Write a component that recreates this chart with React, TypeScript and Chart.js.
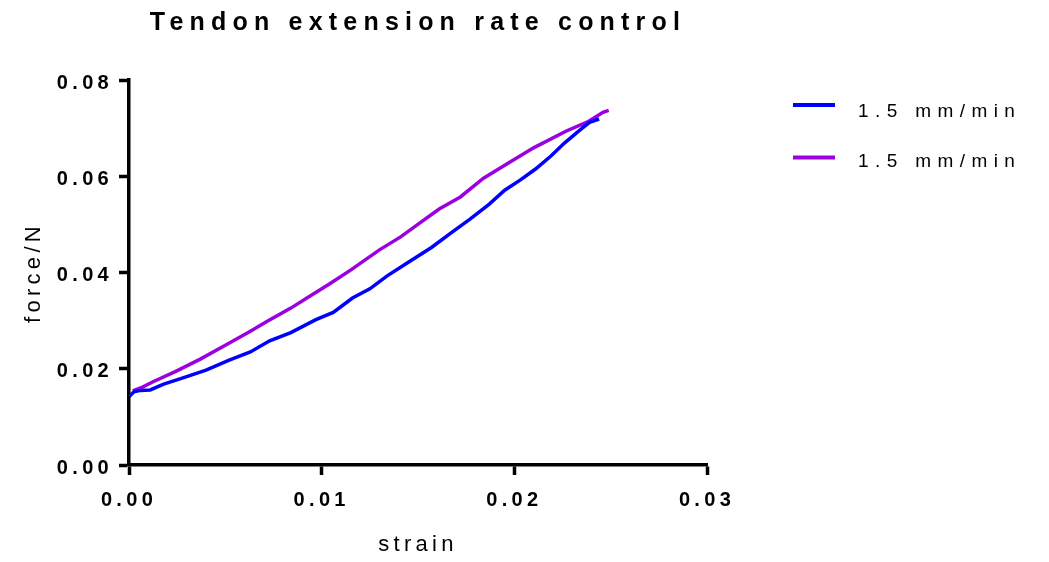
import React, { useEffect, useRef } from "react";
import { Chart, registerables } from "chart.js";

Chart.register(...registerables);

const TITLE = "Tendon extension rate control";
const X_TITLE = "strain";
const Y_TITLE = "force/N";
const SERIES_LABELS = ["1.5 mm/min", "1.5 mm/min"];
const SERIES_COLORS = ["#0000FF", "#9A00E0"];

const blueStrain = [0, 0.00026, 0.0006, 0.0011, 0.0018, 0.0028, 0.004, 0.0052, 0.0063, 0.0073, 0.0084, 0.0097, 0.0106, 0.0116, 0.0125, 0.0134, 0.0146, 0.0157, 0.0167, 0.0177, 0.0187, 0.0195, 0.0203, 0.0211, 0.0219, 0.0226, 0.0234, 0.0239, 0.0244];
const blueForce = [0.0142, 0.0152, 0.0155, 0.0156, 0.0168, 0.0181, 0.0197, 0.0218, 0.0235, 0.0258, 0.0275, 0.0302, 0.0317, 0.0347, 0.0366, 0.0393, 0.0424, 0.0452, 0.0482, 0.0511, 0.0542, 0.0571, 0.0592, 0.0615, 0.0642, 0.0669, 0.0696, 0.0712, 0.0719];

const purpleStrain = [0.0002, 0.0007, 0.00125, 0.0024, 0.0037, 0.005, 0.0063, 0.0072, 0.0084, 0.0094, 0.0104, 0.0115, 0.013, 0.0141, 0.0151, 0.0161, 0.0172, 0.0184, 0.0198, 0.021, 0.0227, 0.0238, 0.0246, 0.0249];
const purpleForce = [0.0154, 0.0162, 0.0173, 0.0194, 0.022, 0.0249, 0.0278, 0.0299, 0.0326, 0.0351, 0.0376, 0.0405, 0.0447, 0.0474, 0.0503, 0.0532, 0.0557, 0.0596, 0.063, 0.0659, 0.0694, 0.0713, 0.0733, 0.0737];

const X_MIN = 0, X_MAX = 0.03, X_STEP = 0.01;
const Y_MIN = 0, Y_MAX = 0.08, Y_STEP = 0.02;

const FONT = '"Liberation Sans", Arial, sans-serif';
const AXIS_SPACING = "4.3px";

const toPoints = (xs: number[], ys: number[]) => xs.map((x, i) => ({ x, y: ys[i] }));

const stylePlugin = {
  id: "stylePlugin",
  beforeUpdate(chart: any) {
    chart.ctx.letterSpacing = AXIS_SPACING;
  },
  beforeLayout(chart: any) {
    chart.ctx.letterSpacing = AXIS_SPACING;
  },
  beforeDraw(chart: any) {
    const ctx = chart.ctx;
    ctx.save();
    ctx.fillStyle = "#ffffff";
    ctx.fillRect(0, 0, chart.width, chart.height);
    ctx.restore();
    ctx.letterSpacing = AXIS_SPACING;
  },
  afterDraw(chart: any) {
    const ctx = chart.ctx;
    const area = chart.chartArea;
    ctx.save();
    ctx.fillStyle = "#000";
    ctx.letterSpacing = "6.2px";
    ctx.font = `bold 25px ${FONT}`;
    ctx.textAlign = "center";
    ctx.textBaseline = "alphabetic";
    ctx.fillText(TITLE, (area.left + area.right) / 2, 29.5);

    ctx.letterSpacing = "6.4px";
    ctx.font = `19px ${FONT}`;
    ctx.textAlign = "left";
    chart.data.datasets.forEach((ds: any, i: number) => {
      const lineY = 105 + i * 52.5;
      ctx.strokeStyle = ds.borderColor;
      ctx.lineWidth = 4;
      ctx.beginPath();
      ctx.moveTo(793, lineY);
      ctx.lineTo(835, lineY);
      ctx.stroke();
      ctx.fillStyle = "#000";
      ctx.fillText(ds.label, 858, 116.8 + i * 50.5);
    });
    ctx.restore();
  },
};

export default function App() {
  const canvasRef = useRef<HTMLCanvasElement | null>(null);

  useEffect(() => {
    const canvas = canvasRef.current;
    if (!canvas) return;
    const axisGrid = {
      display: true,
      drawOnChartArea: false,
      drawTicks: true,
      tickLength: 10,
      tickWidth: 3.5,
      tickColor: "#000",
      color: "#000",
    };
    const chart = new Chart(canvas, {
      type: "line",
      data: {
        datasets: [
          {
            label: SERIES_LABELS[0],
            data: toPoints(blueStrain, blueForce),
            borderColor: SERIES_COLORS[0],
            backgroundColor: SERIES_COLORS[0],
            borderWidth: 3.5,
            pointRadius: 0,
            tension: 0,
            fill: false,
          },
          {
            label: SERIES_LABELS[1],
            data: toPoints(purpleStrain, purpleForce),
            borderColor: SERIES_COLORS[1],
            backgroundColor: SERIES_COLORS[1],
            borderWidth: 3.5,
            pointRadius: 0,
            tension: 0,
            fill: false,
          },
        ],
      },
      options: {
        responsive: false,
        animation: false,
        layout: { padding: { top: 80, right: 342, bottom: 0, left: 0 } },
        plugins: {
          legend: { display: false },
          title: { display: false },
          tooltip: { enabled: false },
        },
        scales: {
          x: {
            type: "linear",
            min: X_MIN,
            max: X_MAX,
            afterFit: (scale: any) => {
              scale.height = 97;
            },
            ticks: {
              stepSize: X_STEP,
              padding: 13,
              color: "#000",
              font: { family: FONT, size: 20, weight: "bold" },
              callback: (v: any) => Number(v).toFixed(2),
            },
            grid: axisGrid,
            border: { display: true, width: 3.5, color: "#000" },
            title: {
              display: true,
              text: X_TITLE,
              color: "#000",
              font: { family: FONT, size: 22 },
              padding: { top: 0, bottom: 3.4 },
            },
          },
          y: {
            type: "linear",
            min: Y_MIN,
            max: Y_MAX,
            afterFit: (scale: any) => {
              scale.width = 129;
            },
            ticks: {
              stepSize: Y_STEP,
              padding: 6,
              labelOffset: 3,
              color: "#000",
              font: { family: FONT, size: 20, weight: "bold" },
              callback: (v: any) => Number(v).toFixed(2),
            },
            grid: axisGrid,
            border: { display: true, width: 3.5, color: "#000" },
            title: {
              display: true,
              text: Y_TITLE,
              color: "#000",
              font: { family: FONT, size: 22 },
              padding: { top: 21, bottom: 0 },
            },
          },
        },
      },
      plugins: [stylePlugin],
    } as any);
    return () => chart.destroy();
  }, []);

  return (
    <div style={{ position: "absolute", left: 0, top: 0, width: 1049, height: 562, background: "#fff" }}>
      <canvas ref={canvasRef} width={1049} height={562} style={{ display: "block" }} />
    </div>
  );
}
